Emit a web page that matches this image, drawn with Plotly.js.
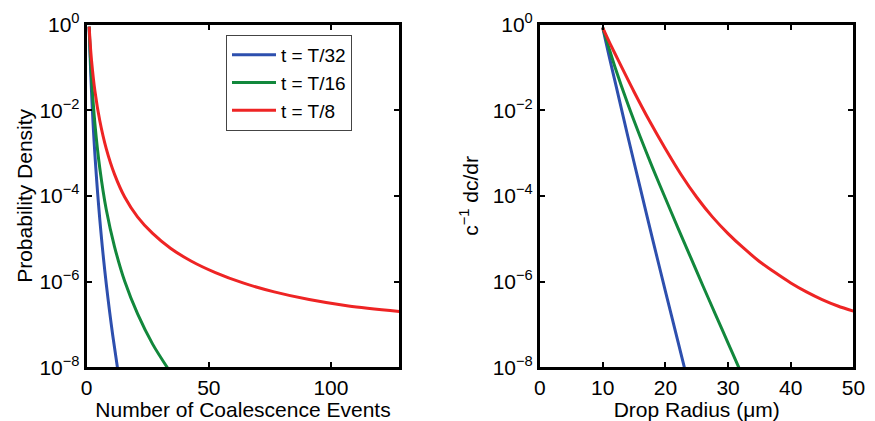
<!DOCTYPE html>
<html>
<head>
<meta charset="utf-8">
<script src="https://cdn.plot.ly/plotly-3.0.1.min.js"></script>
<style>html,body{margin:0;padding:0;background:#fff;}#chart{width:875px;height:421px;}</style>
</head>
<body>
<div id="chart"></div>
<script>
// ---- Data ----
const seriesNames = ["t = T/32", "t = T/16", "t = T/8"];

// Left panel: number of coalescence events vs probability density
const leftBlueX = [1, 1.331, 1.73, 2.197, 2.74, 3.375, 4.1, 4.913, 5.83, 6.859, 8, 9.26, 10.65, 12.65];
const leftBlueY = [8.9e-1, 2.24e-1, 5.6e-2, 1.41e-2, 3.5e-3, 8.9e-4, 2.24e-4, 5.6e-5, 1.41e-5, 3.5e-6, 8.9e-7, 2.24e-7, 5.6e-8, 9.3e-9];

const leftGreenX = [1, 1.4, 1.95, 3.375, 5.36, 8, 11.4, 15.6, 20.8, 27, 34.3];
const leftGreenY = [8.9e-1, 2.43e-1, 6.0e-2, 4.7e-3, 4.4e-4, 4.8e-5, 6.5e-6, 1.0e-6, 1.78e-7, 3.47e-8, 7.6e-9];

const leftRedX = [1, 1.4, 1.95, 3.375, 5.36, 8, 11.4, 15.6, 20.8, 27, 34.3, 42.9, 52.7, 64, 76.8, 91.1, 107.2, 128];
const leftRedY = [8.9e-1, 3.76e-1, 1.5e-1, 2.78e-2, 5.66e-3, 1.27e-3, 3.18e-4, 9.3e-5, 3.25e-5, 1.33e-5, 6.0e-6, 2.98e-6, 1.62e-6, 9.3e-7, 5.75e-7, 3.8e-7, 2.69e-7, 2.0e-7];

// Right panel: drop radius (um) vs c^-1 dc/dr
const rightBlueX = [10, 11, 12, 14, 16, 18, 20, 22, 23.2];
const rightBlueY = [8.5e-1, 1.9e-1, 4.5e-2, 2.5e-3, 1.51e-4, 9.3e-6, 6.0e-7, 4.0e-8, 7.9e-9];

const rightGreenX = [10, 11, 12, 14, 16, 18, 20, 22, 24, 26, 28, 30, 31.6, 32];
const rightGreenY = [8.5e-1, 2.85e-1, 9.8e-2, 1.41e-2, 2.37e-3, 4.4e-4, 8.8e-5, 1.8e-5, 3.76e-6, 7.9e-7, 1.7e-7, 3.67e-8, 1.08e-8, 7.9e-9];

const rightRedX = [10, 11.2, 12.5, 15, 17.5, 20, 22.5, 25, 27.5, 30, 32.5, 35, 37.5, 40, 42.5, 45, 47.5, 50];
const rightRedY = [8.5e-1, 3.55e-1, 1.45e-1, 2.7e-2, 5.5e-3, 1.26e-3, 3.16e-4, 9.3e-5, 3.24e-5, 1.32e-5, 6.0e-6, 2.95e-6, 1.62e-6, 9.3e-7, 5.75e-7, 3.8e-7, 2.69e-7, 2.04e-7];

const yTickVals = [1e-8, 1e-6, 1e-4, 1e-2, 1];
const yTickText = ["10<sup>\u22128</sup>", "10<sup>\u22126</sup>", "10<sup>\u22124</sup>", "10<sup>\u22122</sup>", "10<sup>0</sup>"];
const leftXTicks = [0, 50, 100];
const rightXTicks = [0, 10, 20, 30, 40, 50];

// ---- Styling ----
const colors = ["#2d4fae", "#12883c", "#ee2424"];
const FONT = "Liberation Sans, Arial, Helvetica, sans-serif";
const TXT = {family: FONT, size: 21, color: "#000"};

function tr(x, y, i, xa, ya, show) {
  return {x: x, y: y, type: "scatter", mode: "lines", name: seriesNames[i],
          xaxis: xa, yaxis: ya, showlegend: show,
          line: {color: colors[i], width: 3, shape: "spline", smoothing: 0.8}};
}

const data = [
  tr(leftBlueX, leftBlueY, 0, "x", "y", true),
  tr(leftGreenX, leftGreenY, 1, "x", "y", true),
  tr(leftRedX, leftRedY, 2, "x", "y", true),
  tr(rightBlueX, rightBlueY, 0, "x2", "y2", false),
  tr(rightGreenX, rightGreenY, 1, "x2", "y2", false),
  tr(rightRedX, rightRedY, 2, "x2", "y2", false)
];

const axCommon = {
  showline: true, linecolor: "#000", linewidth: 3, mirror: "ticks",
  ticks: "inside", ticklen: 5, tickwidth: 2, tickcolor: "#000",
  showgrid: false, zeroline: false,
  tickfont: TXT
};

const yCommon = Object.assign({}, axCommon, {
  type: "log", range: [-8, 0], tickvals: yTickVals, ticktext: yTickText,
  ticklabelstandoff: 0
});

const layout = {
  width: 875, height: 421,
  margin: {l: 0, r: 0, t: 0, b: 0},
  paper_bgcolor: "#fff", plot_bgcolor: "#fff",
  font: TXT,
  xaxis: Object.assign({}, axCommon, {
    domain: [0.0991, 0.4563], range: [0, 128], tickvals: leftXTicks,
    anchor: "y",
    title: {text: "Number of Coalescence Events", font: TXT, standoff: 0}
  }),
  yaxis: Object.assign({}, yCommon, {
    domain: [0.1276, 0.9418], anchor: "x",
    title: {text: "Probability Density", font: TXT, standoff: 2}
  }),
  xaxis2: Object.assign({}, axCommon, {
    domain: [0.6171, 0.9754], range: [0, 50], tickvals: rightXTicks,
    anchor: "y2",
    title: {text: "Drop Radius (\u03bcm)", font: TXT, standoff: 0}
  }),
  yaxis2: Object.assign({}, yCommon, {
    domain: [0.1276, 0.9418], anchor: "x2",
    title: {text: "c<sup>\u22121</sup> dc/dr", font: TXT, standoff: 9}
  }),
  showlegend: true,
  legend: {
    x: 226 / 875, y: 1 - 35 / 421, xanchor: "left", yanchor: "top",
    bgcolor: "#fff", bordercolor: "#444", borderwidth: 1,
    font: {family: FONT, size: 19, color: "#000"},
    tracegroupgap: 0, itemwidth: 44
  }
};

Plotly.newPlot("chart", data, layout, {staticPlot: true, displayModeBar: false});
</script>
</body>
</html>
